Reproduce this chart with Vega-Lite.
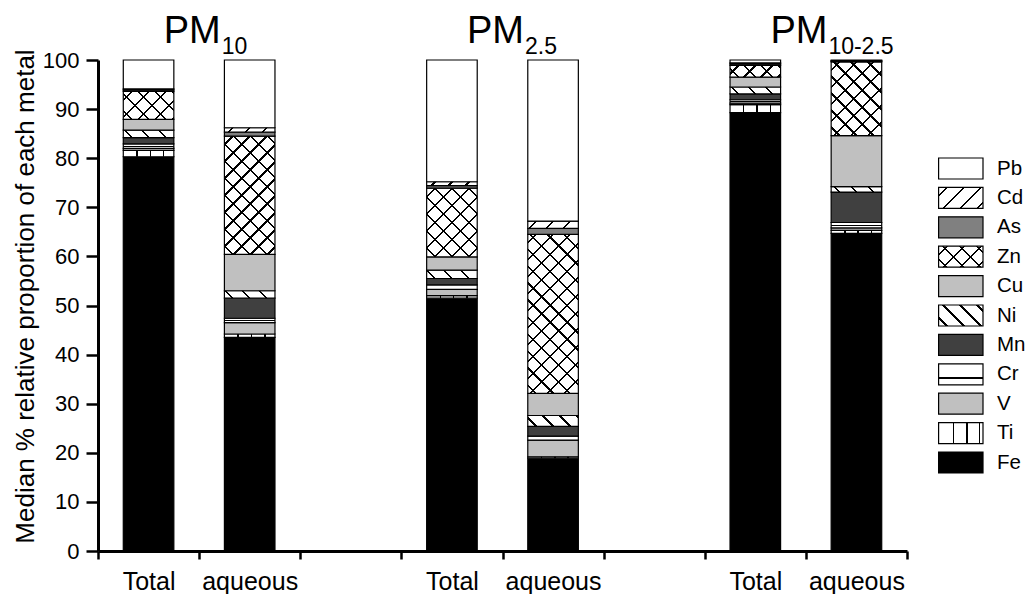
{
"$schema": "https://vega.github.io/schema/vega-lite/v6.json",
"background": "white",
"padding": {"left": 12, "top": 12, "right": 0, "bottom": 0},
"config": {"view": {"stroke": null}, "font": "Liberation Sans", "text": {"color": "black", "font": "Liberation Sans"},
  "axis": {"domainColor": "black", "tickColor": "black", "labelColor": "black", "titleColor": "black", "grid": false, "labelFont": "Liberation Sans", "titleFont": "Liberation Sans"}},
"datasets": {
 "bars": [
  {"sample":"PM10 Total","metal":"Fe","value":80.3},{"sample":"PM10 Total","metal":"Ti","value":1.3},{"sample":"PM10 Total","metal":"V","value":0.4},{"sample":"PM10 Total","metal":"Cr","value":0.9},{"sample":"PM10 Total","metal":"Mn","value":1.3},{"sample":"PM10 Total","metal":"Ni","value":1.5},{"sample":"PM10 Total","metal":"Cu","value":2.2},{"sample":"PM10 Total","metal":"Zn","value":5.7},{"sample":"PM10 Total","metal":"As","value":0.3},{"sample":"PM10 Total","metal":"Cd","value":0.2},{"sample":"PM10 Total","metal":"Pb","value":5.9},
  {"sample":"PM10 aqueous","metal":"Fe","value":43.5},{"sample":"PM10 aqueous","metal":"Ti","value":0.7},{"sample":"PM10 aqueous","metal":"V","value":2.3},{"sample":"PM10 aqueous","metal":"Cr","value":0.9},{"sample":"PM10 aqueous","metal":"Mn","value":4.1},{"sample":"PM10 aqueous","metal":"Ni","value":1.5},{"sample":"PM10 aqueous","metal":"Cu","value":7.4},{"sample":"PM10 aqueous","metal":"Zn","value":24.1},{"sample":"PM10 aqueous","metal":"As","value":0.8},{"sample":"PM10 aqueous","metal":"Cd","value":0.9},{"sample":"PM10 aqueous","metal":"Pb","value":13.8},
  {"sample":"PM2.5 Total","metal":"Fe","value":51.5},{"sample":"PM2.5 Total","metal":"Ti","value":0.5},{"sample":"PM2.5 Total","metal":"V","value":1.3},{"sample":"PM2.5 Total","metal":"Cr","value":0.9},{"sample":"PM2.5 Total","metal":"Mn","value":1.3},{"sample":"PM2.5 Total","metal":"Ni","value":1.7},{"sample":"PM2.5 Total","metal":"Cu","value":2.7},{"sample":"PM2.5 Total","metal":"Zn","value":14.0},{"sample":"PM2.5 Total","metal":"As","value":0.5},{"sample":"PM2.5 Total","metal":"Cd","value":0.8},{"sample":"PM2.5 Total","metal":"Pb","value":24.8},
  {"sample":"PM2.5 aqueous","metal":"Fe","value":18.9},{"sample":"PM2.5 aqueous","metal":"Ti","value":0.3},{"sample":"PM2.5 aqueous","metal":"V","value":3.4},{"sample":"PM2.5 aqueous","metal":"Cr","value":0.8},{"sample":"PM2.5 aqueous","metal":"Mn","value":2.0},{"sample":"PM2.5 aqueous","metal":"Ni","value":2.2},{"sample":"PM2.5 aqueous","metal":"Cu","value":4.5},{"sample":"PM2.5 aqueous","metal":"Zn","value":32.4},{"sample":"PM2.5 aqueous","metal":"As","value":1.2},{"sample":"PM2.5 aqueous","metal":"Cd","value":1.5},{"sample":"PM2.5 aqueous","metal":"Pb","value":32.8},
  {"sample":"PM10-2.5 Total","metal":"Fe","value":89.3},{"sample":"PM10-2.5 Total","metal":"Ti","value":1.6},{"sample":"PM10-2.5 Total","metal":"V","value":0.3},{"sample":"PM10-2.5 Total","metal":"Cr","value":0.7},{"sample":"PM10-2.5 Total","metal":"Mn","value":1.2},{"sample":"PM10-2.5 Total","metal":"Ni","value":1.4},{"sample":"PM10-2.5 Total","metal":"Cu","value":2.0},{"sample":"PM10-2.5 Total","metal":"Zn","value":2.4},{"sample":"PM10-2.5 Total","metal":"As","value":0.3},{"sample":"PM10-2.5 Total","metal":"Cd","value":0.2},{"sample":"PM10-2.5 Total","metal":"Pb","value":0.6},
  {"sample":"PM10-2.5 aqueous","metal":"Fe","value":64.7},{"sample":"PM10-2.5 aqueous","metal":"Ti","value":0.6},{"sample":"PM10-2.5 aqueous","metal":"V","value":0.5},{"sample":"PM10-2.5 aqueous","metal":"Cr","value":1.1},{"sample":"PM10-2.5 aqueous","metal":"Mn","value":6.2},{"sample":"PM10-2.5 aqueous","metal":"Ni","value":1.1},{"sample":"PM10-2.5 aqueous","metal":"Cu","value":10.4},{"sample":"PM10-2.5 aqueous","metal":"Zn","value":15.0},{"sample":"PM10-2.5 aqueous","metal":"As","value":0.1},{"sample":"PM10-2.5 aqueous","metal":"Cd","value":0.2},{"sample":"PM10-2.5 aqueous","metal":"Pb","value":0.1}
 ],
 "titles": [
  {"sample":"PM10 aqueous","main":"PM","sub":"10"},
  {"sample":"PM2.5 aqueous","main":"PM","sub":"2.5"},
  {"sample":"PM10-2.5 aqueous","main":"PM","sub":"10-2.5"}
 ]
},
"bounds": "flush",
"spacing": 31.6,
"hconcat": [
 {
  "width": 809, "height": 491,
  "encoding": {"x": {"field": "sample", "type": "nominal",
    "scale": {"domain": ["PM10 Total","PM10 aqueous","gap1","PM2.5 Total","PM2.5 aqueous","gap2","PM10-2.5 Total","PM10-2.5 aqueous"], "paddingInner": 0, "paddingOuter": 0},
    "axis": {"title": null, "tickBand": "extent", "labelAngle": 0, "labelExpr": "isString(datum.value) && indexof(datum.value, 'gap') < 0 ? split(datum.value, ' ')[1] : ''", "labelFontSize": 25, "labelPadding": 10, "tickSize": 8, "tickWidth": 2.5, "domainWidth": 3, "labelOverlap": false}}},
  "layer": [
   {"data": {"name": "bars"},
    "transform": [{"stack": "value", "groupby": ["sample"], "as": ["v0", "v1"]}],
    "mark": {"type": "bar", "width": {"band": 0.5}, "stroke": "black", "strokeWidth": 1.2},
    "encoding": {
     "y": {"field": "v1", "type": "quantitative", "scale": {"domain": [0, 100], "nice": false},
       "axis": {"values": [0,5,10,15,20,25,30,35,40,45,50,55,60,65,70,75,80,85,90,95,100], "labelExpr": "datum.value % 10 === 0 ? datum.label : ''", "title": "Median % relative proportion of each metal", "titleFontSize": 26, "titleFontWeight": "normal", "titlePadding": 4, "titleY": 236, "labelFontSize": 22, "labelPadding": 7, "tickSize": 12, "tickWidth": 2.5, "domainWidth": 3,
         "encode": {"ticks": {"update": {"x2": {"signal": "datum.value % 10 === 0 ? -12 : -7"}}}}}},
     "y2": {"field": "v0"},
     "color": {"field": "metal", "type": "nominal", "legend": null,
       "scale": {"domain": ["Pb","Cd","As","Zn","Cu","Ni","Mn","Cr","V","Ti","Fe"], "range": ["#ffffff","#ffffff","#808080","#ffffff","#c0c0c0","#ffffff","#404040","#ffffff","#c0c0c0","#ffffff","#000000"]}}
    }},
   {"data": {"name": "bars"},
    "transform": [{"stack": "value", "groupby": ["sample"], "as": ["v0", "v1"]}, {"filter": "datum.metal === 'Ti'"}],
    "mark": {"type": "bar", "width": {"band": 0.5}, "strokeWidth": 0,
      "fill": {"gradient": "linear", "x1": 0, "y1": 0, "x2": 1, "y2": 0, "stops": [
        {"offset":0.255,"color":"transparent"},{"offset":0.255,"color":"#000"},{"offset":0.285,"color":"#000"},{"offset":0.285,"color":"transparent"},
        {"offset":0.52,"color":"transparent"},{"offset":0.52,"color":"#000"},{"offset":0.55,"color":"#000"},{"offset":0.55,"color":"transparent"},
        {"offset":0.785,"color":"transparent"},{"offset":0.785,"color":"#000"},{"offset":0.815,"color":"#000"},{"offset":0.815,"color":"transparent"}]}},
    "encoding": {"y": {"field": "v1", "type": "quantitative", "scale": {"domain": [0, 100], "nice": false}}, "y2": {"field": "v0"}}},
   {"data": {"name": "bars"},
    "transform": [{"stack": "value", "groupby": ["sample"], "as": ["v0", "v1"]}, {"filter": "datum.metal === 'Cr'"}],
    "mark": {"type": "bar", "width": {"band": 0.5}, "strokeWidth": 0,
      "fill": {"gradient": "linear", "x1": 0, "y1": 0, "x2": 0, "y2": 1, "stops": [
        {"offset":0.42,"color":"transparent"},{"offset":0.42,"color":"#000"},{"offset":0.58,"color":"#000"},{"offset":0.58,"color":"transparent"}]}},
    "encoding": {"y": {"field": "v1", "type": "quantitative", "scale": {"domain": [0, 100], "nice": false}}, "y2": {"field": "v0"}}},
   {"data": {"name": "bars"},
    "transform": [{"stack": "value", "groupby": ["sample"], "as": ["v0", "v1"]}, {"filter": "datum.metal === 'Cd'"}],
    "mark": {"type": "bar", "width": {"band": 0.5}, "strokeWidth": 0},
    "encoding": {"y": {"field": "v1", "type": "quantitative", "scale": {"domain": [0, 100], "nice": false}}, "y2": {"field": "v0"},
     "fill": {"condition": [
       {"test": "datum.sample === 'PM10 aqueous'", "value": {"gradient":"linear","x1":0,"y1":0,"x2":1.33477,"y2":0.11669,"stops":[{"offset":0.1088,"color":"transparent"},{"offset":0.1088,"color":"#000"},{"offset":0.1412,"color":"#000"},{"offset":0.1412,"color":"transparent"},{"offset":0.3588,"color":"transparent"},{"offset":0.3588,"color":"#000"},{"offset":0.3912,"color":"#000"},{"offset":0.3912,"color":"transparent"},{"offset":0.6088,"color":"transparent"},{"offset":0.6088,"color":"#000"},{"offset":0.6412,"color":"#000"},{"offset":0.6412,"color":"transparent"},{"offset":0.8588,"color":"transparent"},{"offset":0.8588,"color":"#000"},{"offset":0.8912,"color":"#000"},{"offset":0.8912,"color":"transparent"}]}},
       {"test": "datum.sample === 'PM2.5 Total'", "value": {"gradient":"linear","x1":0,"y1":0,"x2":1.3369,"y2":0.10392,"stops":[{"offset":0.1088,"color":"transparent"},{"offset":0.1088,"color":"#000"},{"offset":0.1412,"color":"#000"},{"offset":0.1412,"color":"transparent"},{"offset":0.3588,"color":"transparent"},{"offset":0.3588,"color":"#000"},{"offset":0.3912,"color":"#000"},{"offset":0.3912,"color":"transparent"},{"offset":0.6088,"color":"transparent"},{"offset":0.6088,"color":"#000"},{"offset":0.6412,"color":"#000"},{"offset":0.6412,"color":"transparent"},{"offset":0.8588,"color":"transparent"},{"offset":0.8588,"color":"#000"},{"offset":0.8912,"color":"#000"},{"offset":0.8912,"color":"transparent"}]}},
       {"test": "datum.sample === 'PM2.5 aqueous'", "value": {"gradient":"linear","x1":0,"y1":0,"x2":1.31698,"y2":0.19197,"stops":[{"offset":0.1088,"color":"transparent"},{"offset":0.1088,"color":"#000"},{"offset":0.1412,"color":"#000"},{"offset":0.1412,"color":"transparent"},{"offset":0.3588,"color":"transparent"},{"offset":0.3588,"color":"#000"},{"offset":0.3912,"color":"#000"},{"offset":0.3912,"color":"transparent"},{"offset":0.6088,"color":"transparent"},{"offset":0.6088,"color":"#000"},{"offset":0.6412,"color":"#000"},{"offset":0.6412,"color":"transparent"},{"offset":0.8588,"color":"transparent"},{"offset":0.8588,"color":"#000"},{"offset":0.8912,"color":"#000"},{"offset":0.8912,"color":"transparent"}]}}
      ],
      "value": {"gradient":"linear","x1":0,"y1":0,"x2":1.34443,"y2":0.02606,"stops":[{"offset":0.1088,"color":"transparent"},{"offset":0.1088,"color":"#000"},{"offset":0.1412,"color":"#000"},{"offset":0.1412,"color":"transparent"},{"offset":0.3588,"color":"transparent"},{"offset":0.3588,"color":"#000"},{"offset":0.3912,"color":"#000"},{"offset":0.3912,"color":"transparent"},{"offset":0.6088,"color":"transparent"},{"offset":0.6088,"color":"#000"},{"offset":0.6412,"color":"#000"},{"offset":0.6412,"color":"transparent"},{"offset":0.8588,"color":"transparent"},{"offset":0.8588,"color":"#000"},{"offset":0.8912,"color":"#000"},{"offset":0.8912,"color":"transparent"}]}}
    }},
   {"data": {"name": "bars"},
    "transform": [{"stack": "value", "groupby": ["sample"], "as": ["v0", "v1"]}, {"filter": "datum.metal === 'Ni'"}],
    "mark": {"type": "bar", "width": {"band": 0.5}, "strokeWidth": 0},
    "encoding": {"y": {"field": "v1", "type": "quantitative", "scale": {"domain": [0, 100], "nice": false}}, "y2": {"field": "v0"},
     "fill": {"condition": [
       {"test": "datum.sample === 'PM10 Total' || datum.sample === 'PM10 aqueous'", "value": {"gradient":"linear","x1":0,"y1":1,"x2":1.31698,"y2":0.80803,"stops":[{"offset":0.1088,"color":"transparent"},{"offset":0.1088,"color":"#000"},{"offset":0.1412,"color":"#000"},{"offset":0.1412,"color":"transparent"},{"offset":0.3588,"color":"transparent"},{"offset":0.3588,"color":"#000"},{"offset":0.3912,"color":"#000"},{"offset":0.3912,"color":"transparent"},{"offset":0.6088,"color":"transparent"},{"offset":0.6088,"color":"#000"},{"offset":0.6412,"color":"#000"},{"offset":0.6412,"color":"transparent"},{"offset":0.8588,"color":"transparent"},{"offset":0.8588,"color":"#000"},{"offset":0.8912,"color":"#000"},{"offset":0.8912,"color":"transparent"}]}},
       {"test": "datum.sample === 'PM2.5 Total'", "value": {"gradient":"linear","x1":0,"y1":1,"x2":1.30925,"y2":0.78378,"stops":[{"offset":0.1088,"color":"transparent"},{"offset":0.1088,"color":"#000"},{"offset":0.1412,"color":"#000"},{"offset":0.1412,"color":"transparent"},{"offset":0.3588,"color":"transparent"},{"offset":0.3588,"color":"#000"},{"offset":0.3912,"color":"#000"},{"offset":0.3912,"color":"transparent"},{"offset":0.6088,"color":"transparent"},{"offset":0.6088,"color":"#000"},{"offset":0.6412,"color":"#000"},{"offset":0.6412,"color":"transparent"},{"offset":0.8588,"color":"transparent"},{"offset":0.8588,"color":"#000"},{"offset":0.8912,"color":"#000"},{"offset":0.8912,"color":"transparent"}]}},
       {"test": "datum.sample === 'PM2.5 aqueous'", "value": {"gradient":"linear","x1":0,"y1":1,"x2":1.28628,"y2":0.72524,"stops":[{"offset":0.1088,"color":"transparent"},{"offset":0.1088,"color":"#000"},{"offset":0.1412,"color":"#000"},{"offset":0.1412,"color":"transparent"},{"offset":0.3588,"color":"transparent"},{"offset":0.3588,"color":"#000"},{"offset":0.3912,"color":"#000"},{"offset":0.3912,"color":"transparent"},{"offset":0.6088,"color":"transparent"},{"offset":0.6088,"color":"#000"},{"offset":0.6412,"color":"#000"},{"offset":0.6412,"color":"transparent"},{"offset":0.8588,"color":"transparent"},{"offset":0.8588,"color":"#000"},{"offset":0.8912,"color":"#000"},{"offset":0.8912,"color":"transparent"}]}},
       {"test": "datum.sample === 'PM10-2.5 Total'", "value": {"gradient":"linear","x1":0,"y1":1,"x2":1.32056,"y2":0.82056,"stops":[{"offset":0.1088,"color":"transparent"},{"offset":0.1088,"color":"#000"},{"offset":0.1412,"color":"#000"},{"offset":0.1412,"color":"transparent"},{"offset":0.3588,"color":"transparent"},{"offset":0.3588,"color":"#000"},{"offset":0.3912,"color":"#000"},{"offset":0.3912,"color":"transparent"},{"offset":0.6088,"color":"transparent"},{"offset":0.6088,"color":"#000"},{"offset":0.6412,"color":"#000"},{"offset":0.6412,"color":"transparent"},{"offset":0.8588,"color":"transparent"},{"offset":0.8588,"color":"#000"},{"offset":0.8912,"color":"#000"},{"offset":0.8912,"color":"transparent"}]}}
      ],
      "value": {"gradient":"linear","x1":0,"y1":1,"x2":1.32976,"y2":0.85798,"stops":[{"offset":0.1088,"color":"transparent"},{"offset":0.1088,"color":"#000"},{"offset":0.1412,"color":"#000"},{"offset":0.1412,"color":"transparent"},{"offset":0.3588,"color":"transparent"},{"offset":0.3588,"color":"#000"},{"offset":0.3912,"color":"#000"},{"offset":0.3912,"color":"transparent"},{"offset":0.6088,"color":"transparent"},{"offset":0.6088,"color":"#000"},{"offset":0.6412,"color":"#000"},{"offset":0.6412,"color":"transparent"},{"offset":0.8588,"color":"transparent"},{"offset":0.8588,"color":"#000"},{"offset":0.8912,"color":"#000"},{"offset":0.8912,"color":"transparent"}]}}
    }},
   {"data": {"name": "bars"},
    "transform": [{"stack": "value", "groupby": ["sample"], "as": ["v0", "v1"]}, {"filter": "datum.metal === 'Zn'"}],
    "mark": {"type": "bar", "width": {"band": 0.5}, "strokeWidth": 0},
    "encoding": {"y": {"field": "v1", "type": "quantitative", "scale": {"domain": [0, 100], "nice": false}}, "y2": {"field": "v0"},
     "fill": {"condition": [
       {"test": "datum.sample === 'PM10 Total'", "value": {"gradient":"linear","x1":0,"y1":0,"x2":3.3458,"y2":1.8522,"stops":[{"offset":0.0335,"color":"transparent"},{"offset":0.0335,"color":"#000"},{"offset":0.0434,"color":"#000"},{"offset":0.0434,"color":"transparent"},{"offset":0.1104,"color":"transparent"},{"offset":0.1104,"color":"#000"},{"offset":0.1204,"color":"#000"},{"offset":0.1204,"color":"transparent"},{"offset":0.1873,"color":"transparent"},{"offset":0.1873,"color":"#000"},{"offset":0.1973,"color":"#000"},{"offset":0.1973,"color":"transparent"},{"offset":0.2643,"color":"transparent"},{"offset":0.2643,"color":"#000"},{"offset":0.2742,"color":"#000"},{"offset":0.2742,"color":"transparent"},{"offset":0.3412,"color":"transparent"},{"offset":0.3412,"color":"#000"},{"offset":0.3511,"color":"#000"},{"offset":0.3511,"color":"transparent"},{"offset":0.4181,"color":"transparent"},{"offset":0.4181,"color":"#000"},{"offset":0.4281,"color":"#000"},{"offset":0.4281,"color":"transparent"},{"offset":0.495,"color":"transparent"},{"offset":0.495,"color":"#000"},{"offset":0.505,"color":"#000"},{"offset":0.505,"color":"transparent"},{"offset":0.572,"color":"transparent"},{"offset":0.572,"color":"#000"},{"offset":0.5819,"color":"#000"},{"offset":0.5819,"color":"transparent"},{"offset":0.6489,"color":"transparent"},{"offset":0.6489,"color":"#000"},{"offset":0.6588,"color":"#000"},{"offset":0.6588,"color":"transparent"},{"offset":0.7258,"color":"transparent"},{"offset":0.7258,"color":"#000"},{"offset":0.7357,"color":"#000"},{"offset":0.7357,"color":"transparent"},{"offset":0.8027,"color":"transparent"},{"offset":0.8027,"color":"#000"},{"offset":0.8127,"color":"#000"},{"offset":0.8127,"color":"transparent"},{"offset":0.8796,"color":"transparent"},{"offset":0.8796,"color":"#000"},{"offset":0.8896,"color":"#000"},{"offset":0.8896,"color":"transparent"},{"offset":0.9566,"color":"transparent"},{"offset":0.9566,"color":"#000"},{"offset":0.9665,"color":"#000"},{"offset":0.9665,"color":"transparent"}]}},
       {"test": "datum.sample === 'PM10 aqueous'", "value": {"gradient":"linear","x1":0,"y1":0,"x2":0.67481,"y2":1.57932,"stops":[{"offset":0.0335,"color":"transparent"},{"offset":0.0335,"color":"#000"},{"offset":0.0434,"color":"#000"},{"offset":0.0434,"color":"transparent"},{"offset":0.1104,"color":"transparent"},{"offset":0.1104,"color":"#000"},{"offset":0.1204,"color":"#000"},{"offset":0.1204,"color":"transparent"},{"offset":0.1873,"color":"transparent"},{"offset":0.1873,"color":"#000"},{"offset":0.1973,"color":"#000"},{"offset":0.1973,"color":"transparent"},{"offset":0.2643,"color":"transparent"},{"offset":0.2643,"color":"#000"},{"offset":0.2742,"color":"#000"},{"offset":0.2742,"color":"transparent"},{"offset":0.3412,"color":"transparent"},{"offset":0.3412,"color":"#000"},{"offset":0.3511,"color":"#000"},{"offset":0.3511,"color":"transparent"},{"offset":0.4181,"color":"transparent"},{"offset":0.4181,"color":"#000"},{"offset":0.4281,"color":"#000"},{"offset":0.4281,"color":"transparent"},{"offset":0.495,"color":"transparent"},{"offset":0.495,"color":"#000"},{"offset":0.505,"color":"#000"},{"offset":0.505,"color":"transparent"},{"offset":0.572,"color":"transparent"},{"offset":0.572,"color":"#000"},{"offset":0.5819,"color":"#000"},{"offset":0.5819,"color":"transparent"},{"offset":0.6489,"color":"transparent"},{"offset":0.6489,"color":"#000"},{"offset":0.6588,"color":"#000"},{"offset":0.6588,"color":"transparent"},{"offset":0.7258,"color":"transparent"},{"offset":0.7258,"color":"#000"},{"offset":0.7357,"color":"#000"},{"offset":0.7357,"color":"transparent"},{"offset":0.8027,"color":"transparent"},{"offset":0.8027,"color":"#000"},{"offset":0.8127,"color":"#000"},{"offset":0.8127,"color":"transparent"},{"offset":0.8796,"color":"transparent"},{"offset":0.8796,"color":"#000"},{"offset":0.8896,"color":"#000"},{"offset":0.8896,"color":"transparent"},{"offset":0.9566,"color":"transparent"},{"offset":0.9566,"color":"#000"},{"offset":0.9665,"color":"#000"},{"offset":0.9665,"color":"transparent"}]}},
       {"test": "datum.sample === 'PM2.5 Total'", "value": {"gradient":"linear","x1":0,"y1":0,"x2":1.53455,"y2":2.08632,"stops":[{"offset":0.0335,"color":"transparent"},{"offset":0.0335,"color":"#000"},{"offset":0.0434,"color":"#000"},{"offset":0.0434,"color":"transparent"},{"offset":0.1104,"color":"transparent"},{"offset":0.1104,"color":"#000"},{"offset":0.1204,"color":"#000"},{"offset":0.1204,"color":"transparent"},{"offset":0.1873,"color":"transparent"},{"offset":0.1873,"color":"#000"},{"offset":0.1973,"color":"#000"},{"offset":0.1973,"color":"transparent"},{"offset":0.2643,"color":"transparent"},{"offset":0.2643,"color":"#000"},{"offset":0.2742,"color":"#000"},{"offset":0.2742,"color":"transparent"},{"offset":0.3412,"color":"transparent"},{"offset":0.3412,"color":"#000"},{"offset":0.3511,"color":"#000"},{"offset":0.3511,"color":"transparent"},{"offset":0.4181,"color":"transparent"},{"offset":0.4181,"color":"#000"},{"offset":0.4281,"color":"#000"},{"offset":0.4281,"color":"transparent"},{"offset":0.495,"color":"transparent"},{"offset":0.495,"color":"#000"},{"offset":0.505,"color":"#000"},{"offset":0.505,"color":"transparent"},{"offset":0.572,"color":"transparent"},{"offset":0.572,"color":"#000"},{"offset":0.5819,"color":"#000"},{"offset":0.5819,"color":"transparent"},{"offset":0.6489,"color":"transparent"},{"offset":0.6489,"color":"#000"},{"offset":0.6588,"color":"#000"},{"offset":0.6588,"color":"transparent"},{"offset":0.7258,"color":"transparent"},{"offset":0.7258,"color":"#000"},{"offset":0.7357,"color":"#000"},{"offset":0.7357,"color":"transparent"},{"offset":0.8027,"color":"transparent"},{"offset":0.8027,"color":"#000"},{"offset":0.8127,"color":"#000"},{"offset":0.8127,"color":"transparent"},{"offset":0.8796,"color":"transparent"},{"offset":0.8796,"color":"#000"},{"offset":0.8896,"color":"#000"},{"offset":0.8896,"color":"transparent"},{"offset":0.9566,"color":"transparent"},{"offset":0.9566,"color":"#000"},{"offset":0.9665,"color":"#000"},{"offset":0.9665,"color":"transparent"}]}},
       {"test": "datum.sample === 'PM2.5 aqueous'", "value": {"gradient":"linear","x1":0,"y1":0,"x2":0.40103,"y2":1.26178,"stops":[{"offset":0.0335,"color":"transparent"},{"offset":0.0335,"color":"#000"},{"offset":0.0434,"color":"#000"},{"offset":0.0434,"color":"transparent"},{"offset":0.1104,"color":"transparent"},{"offset":0.1104,"color":"#000"},{"offset":0.1204,"color":"#000"},{"offset":0.1204,"color":"transparent"},{"offset":0.1873,"color":"transparent"},{"offset":0.1873,"color":"#000"},{"offset":0.1973,"color":"#000"},{"offset":0.1973,"color":"transparent"},{"offset":0.2643,"color":"transparent"},{"offset":0.2643,"color":"#000"},{"offset":0.2742,"color":"#000"},{"offset":0.2742,"color":"transparent"},{"offset":0.3412,"color":"transparent"},{"offset":0.3412,"color":"#000"},{"offset":0.3511,"color":"#000"},{"offset":0.3511,"color":"transparent"},{"offset":0.4181,"color":"transparent"},{"offset":0.4181,"color":"#000"},{"offset":0.4281,"color":"#000"},{"offset":0.4281,"color":"transparent"},{"offset":0.495,"color":"transparent"},{"offset":0.495,"color":"#000"},{"offset":0.505,"color":"#000"},{"offset":0.505,"color":"transparent"},{"offset":0.572,"color":"transparent"},{"offset":0.572,"color":"#000"},{"offset":0.5819,"color":"#000"},{"offset":0.5819,"color":"transparent"},{"offset":0.6489,"color":"transparent"},{"offset":0.6489,"color":"#000"},{"offset":0.6588,"color":"#000"},{"offset":0.6588,"color":"transparent"},{"offset":0.7258,"color":"transparent"},{"offset":0.7258,"color":"#000"},{"offset":0.7357,"color":"#000"},{"offset":0.7357,"color":"transparent"},{"offset":0.8027,"color":"transparent"},{"offset":0.8027,"color":"#000"},{"offset":0.8127,"color":"#000"},{"offset":0.8127,"color":"transparent"},{"offset":0.8796,"color":"transparent"},{"offset":0.8796,"color":"#000"},{"offset":0.8896,"color":"#000"},{"offset":0.8896,"color":"transparent"},{"offset":0.9566,"color":"transparent"},{"offset":0.9566,"color":"#000"},{"offset":0.9665,"color":"#000"},{"offset":0.9665,"color":"transparent"}]}},
       {"test": "datum.sample === 'PM10-2.5 Total'", "value": {"gradient":"linear","x1":0,"y1":0,"x2":4.146,"y2":0.966,"stops":[{"offset":0.0335,"color":"transparent"},{"offset":0.0335,"color":"#000"},{"offset":0.0434,"color":"#000"},{"offset":0.0434,"color":"transparent"},{"offset":0.1104,"color":"transparent"},{"offset":0.1104,"color":"#000"},{"offset":0.1204,"color":"#000"},{"offset":0.1204,"color":"transparent"},{"offset":0.1873,"color":"transparent"},{"offset":0.1873,"color":"#000"},{"offset":0.1973,"color":"#000"},{"offset":0.1973,"color":"transparent"},{"offset":0.2643,"color":"transparent"},{"offset":0.2643,"color":"#000"},{"offset":0.2742,"color":"#000"},{"offset":0.2742,"color":"transparent"},{"offset":0.3412,"color":"transparent"},{"offset":0.3412,"color":"#000"},{"offset":0.3511,"color":"#000"},{"offset":0.3511,"color":"transparent"},{"offset":0.4181,"color":"transparent"},{"offset":0.4181,"color":"#000"},{"offset":0.4281,"color":"#000"},{"offset":0.4281,"color":"transparent"},{"offset":0.495,"color":"transparent"},{"offset":0.495,"color":"#000"},{"offset":0.505,"color":"#000"},{"offset":0.505,"color":"transparent"},{"offset":0.572,"color":"transparent"},{"offset":0.572,"color":"#000"},{"offset":0.5819,"color":"#000"},{"offset":0.5819,"color":"transparent"},{"offset":0.6489,"color":"transparent"},{"offset":0.6489,"color":"#000"},{"offset":0.6588,"color":"#000"},{"offset":0.6588,"color":"transparent"},{"offset":0.7258,"color":"transparent"},{"offset":0.7258,"color":"#000"},{"offset":0.7357,"color":"#000"},{"offset":0.7357,"color":"transparent"},{"offset":0.8027,"color":"transparent"},{"offset":0.8027,"color":"#000"},{"offset":0.8127,"color":"#000"},{"offset":0.8127,"color":"transparent"},{"offset":0.8796,"color":"transparent"},{"offset":0.8796,"color":"#000"},{"offset":0.8896,"color":"#000"},{"offset":0.8896,"color":"transparent"},{"offset":0.9566,"color":"transparent"},{"offset":0.9566,"color":"#000"},{"offset":0.9665,"color":"#000"},{"offset":0.9665,"color":"transparent"}]}}
      ],
      "value": {"gradient":"linear","x1":0,"y1":0,"x2":1.40012,"y2":2.03953,"stops":[{"offset":0.0335,"color":"transparent"},{"offset":0.0335,"color":"#000"},{"offset":0.0434,"color":"#000"},{"offset":0.0434,"color":"transparent"},{"offset":0.1104,"color":"transparent"},{"offset":0.1104,"color":"#000"},{"offset":0.1204,"color":"#000"},{"offset":0.1204,"color":"transparent"},{"offset":0.1873,"color":"transparent"},{"offset":0.1873,"color":"#000"},{"offset":0.1973,"color":"#000"},{"offset":0.1973,"color":"transparent"},{"offset":0.2643,"color":"transparent"},{"offset":0.2643,"color":"#000"},{"offset":0.2742,"color":"#000"},{"offset":0.2742,"color":"transparent"},{"offset":0.3412,"color":"transparent"},{"offset":0.3412,"color":"#000"},{"offset":0.3511,"color":"#000"},{"offset":0.3511,"color":"transparent"},{"offset":0.4181,"color":"transparent"},{"offset":0.4181,"color":"#000"},{"offset":0.4281,"color":"#000"},{"offset":0.4281,"color":"transparent"},{"offset":0.495,"color":"transparent"},{"offset":0.495,"color":"#000"},{"offset":0.505,"color":"#000"},{"offset":0.505,"color":"transparent"},{"offset":0.572,"color":"transparent"},{"offset":0.572,"color":"#000"},{"offset":0.5819,"color":"#000"},{"offset":0.5819,"color":"transparent"},{"offset":0.6489,"color":"transparent"},{"offset":0.6489,"color":"#000"},{"offset":0.6588,"color":"#000"},{"offset":0.6588,"color":"transparent"},{"offset":0.7258,"color":"transparent"},{"offset":0.7258,"color":"#000"},{"offset":0.7357,"color":"#000"},{"offset":0.7357,"color":"transparent"},{"offset":0.8027,"color":"transparent"},{"offset":0.8027,"color":"#000"},{"offset":0.8127,"color":"#000"},{"offset":0.8127,"color":"transparent"},{"offset":0.8796,"color":"transparent"},{"offset":0.8796,"color":"#000"},{"offset":0.8896,"color":"#000"},{"offset":0.8896,"color":"transparent"},{"offset":0.9566,"color":"transparent"},{"offset":0.9566,"color":"#000"},{"offset":0.9665,"color":"#000"},{"offset":0.9665,"color":"transparent"}]}}
    }},
   {"data": {"name": "bars"},
    "transform": [{"stack": "value", "groupby": ["sample"], "as": ["v0", "v1"]}, {"filter": "datum.metal === 'Zn'"}],
    "mark": {"type": "bar", "width": {"band": 0.5}, "strokeWidth": 0},
    "encoding": {"y": {"field": "v1", "type": "quantitative", "scale": {"domain": [0, 100], "nice": false}}, "y2": {"field": "v0"},
     "fill": {"condition": [
       {"test": "datum.sample === 'PM10 Total'", "value": {"gradient":"linear","x1":0,"y1":1,"x2":3.3458,"y2":-0.8522,"stops":[{"offset":0.0335,"color":"transparent"},{"offset":0.0335,"color":"#000"},{"offset":0.0434,"color":"#000"},{"offset":0.0434,"color":"transparent"},{"offset":0.1104,"color":"transparent"},{"offset":0.1104,"color":"#000"},{"offset":0.1204,"color":"#000"},{"offset":0.1204,"color":"transparent"},{"offset":0.1873,"color":"transparent"},{"offset":0.1873,"color":"#000"},{"offset":0.1973,"color":"#000"},{"offset":0.1973,"color":"transparent"},{"offset":0.2643,"color":"transparent"},{"offset":0.2643,"color":"#000"},{"offset":0.2742,"color":"#000"},{"offset":0.2742,"color":"transparent"},{"offset":0.3412,"color":"transparent"},{"offset":0.3412,"color":"#000"},{"offset":0.3511,"color":"#000"},{"offset":0.3511,"color":"transparent"},{"offset":0.4181,"color":"transparent"},{"offset":0.4181,"color":"#000"},{"offset":0.4281,"color":"#000"},{"offset":0.4281,"color":"transparent"},{"offset":0.495,"color":"transparent"},{"offset":0.495,"color":"#000"},{"offset":0.505,"color":"#000"},{"offset":0.505,"color":"transparent"},{"offset":0.572,"color":"transparent"},{"offset":0.572,"color":"#000"},{"offset":0.5819,"color":"#000"},{"offset":0.5819,"color":"transparent"},{"offset":0.6489,"color":"transparent"},{"offset":0.6489,"color":"#000"},{"offset":0.6588,"color":"#000"},{"offset":0.6588,"color":"transparent"},{"offset":0.7258,"color":"transparent"},{"offset":0.7258,"color":"#000"},{"offset":0.7357,"color":"#000"},{"offset":0.7357,"color":"transparent"},{"offset":0.8027,"color":"transparent"},{"offset":0.8027,"color":"#000"},{"offset":0.8127,"color":"#000"},{"offset":0.8127,"color":"transparent"},{"offset":0.8796,"color":"transparent"},{"offset":0.8796,"color":"#000"},{"offset":0.8896,"color":"#000"},{"offset":0.8896,"color":"transparent"},{"offset":0.9566,"color":"transparent"},{"offset":0.9566,"color":"#000"},{"offset":0.9665,"color":"#000"},{"offset":0.9665,"color":"transparent"}]}},
       {"test": "datum.sample === 'PM10 aqueous'", "value": {"gradient":"linear","x1":0,"y1":1,"x2":0.67481,"y2":-0.57932,"stops":[{"offset":0.0335,"color":"transparent"},{"offset":0.0335,"color":"#000"},{"offset":0.0434,"color":"#000"},{"offset":0.0434,"color":"transparent"},{"offset":0.1104,"color":"transparent"},{"offset":0.1104,"color":"#000"},{"offset":0.1204,"color":"#000"},{"offset":0.1204,"color":"transparent"},{"offset":0.1873,"color":"transparent"},{"offset":0.1873,"color":"#000"},{"offset":0.1973,"color":"#000"},{"offset":0.1973,"color":"transparent"},{"offset":0.2643,"color":"transparent"},{"offset":0.2643,"color":"#000"},{"offset":0.2742,"color":"#000"},{"offset":0.2742,"color":"transparent"},{"offset":0.3412,"color":"transparent"},{"offset":0.3412,"color":"#000"},{"offset":0.3511,"color":"#000"},{"offset":0.3511,"color":"transparent"},{"offset":0.4181,"color":"transparent"},{"offset":0.4181,"color":"#000"},{"offset":0.4281,"color":"#000"},{"offset":0.4281,"color":"transparent"},{"offset":0.495,"color":"transparent"},{"offset":0.495,"color":"#000"},{"offset":0.505,"color":"#000"},{"offset":0.505,"color":"transparent"},{"offset":0.572,"color":"transparent"},{"offset":0.572,"color":"#000"},{"offset":0.5819,"color":"#000"},{"offset":0.5819,"color":"transparent"},{"offset":0.6489,"color":"transparent"},{"offset":0.6489,"color":"#000"},{"offset":0.6588,"color":"#000"},{"offset":0.6588,"color":"transparent"},{"offset":0.7258,"color":"transparent"},{"offset":0.7258,"color":"#000"},{"offset":0.7357,"color":"#000"},{"offset":0.7357,"color":"transparent"},{"offset":0.8027,"color":"transparent"},{"offset":0.8027,"color":"#000"},{"offset":0.8127,"color":"#000"},{"offset":0.8127,"color":"transparent"},{"offset":0.8796,"color":"transparent"},{"offset":0.8796,"color":"#000"},{"offset":0.8896,"color":"#000"},{"offset":0.8896,"color":"transparent"},{"offset":0.9566,"color":"transparent"},{"offset":0.9566,"color":"#000"},{"offset":0.9665,"color":"#000"},{"offset":0.9665,"color":"transparent"}]}},
       {"test": "datum.sample === 'PM2.5 Total'", "value": {"gradient":"linear","x1":0,"y1":1,"x2":1.53455,"y2":-1.08632,"stops":[{"offset":0.0335,"color":"transparent"},{"offset":0.0335,"color":"#000"},{"offset":0.0434,"color":"#000"},{"offset":0.0434,"color":"transparent"},{"offset":0.1104,"color":"transparent"},{"offset":0.1104,"color":"#000"},{"offset":0.1204,"color":"#000"},{"offset":0.1204,"color":"transparent"},{"offset":0.1873,"color":"transparent"},{"offset":0.1873,"color":"#000"},{"offset":0.1973,"color":"#000"},{"offset":0.1973,"color":"transparent"},{"offset":0.2643,"color":"transparent"},{"offset":0.2643,"color":"#000"},{"offset":0.2742,"color":"#000"},{"offset":0.2742,"color":"transparent"},{"offset":0.3412,"color":"transparent"},{"offset":0.3412,"color":"#000"},{"offset":0.3511,"color":"#000"},{"offset":0.3511,"color":"transparent"},{"offset":0.4181,"color":"transparent"},{"offset":0.4181,"color":"#000"},{"offset":0.4281,"color":"#000"},{"offset":0.4281,"color":"transparent"},{"offset":0.495,"color":"transparent"},{"offset":0.495,"color":"#000"},{"offset":0.505,"color":"#000"},{"offset":0.505,"color":"transparent"},{"offset":0.572,"color":"transparent"},{"offset":0.572,"color":"#000"},{"offset":0.5819,"color":"#000"},{"offset":0.5819,"color":"transparent"},{"offset":0.6489,"color":"transparent"},{"offset":0.6489,"color":"#000"},{"offset":0.6588,"color":"#000"},{"offset":0.6588,"color":"transparent"},{"offset":0.7258,"color":"transparent"},{"offset":0.7258,"color":"#000"},{"offset":0.7357,"color":"#000"},{"offset":0.7357,"color":"transparent"},{"offset":0.8027,"color":"transparent"},{"offset":0.8027,"color":"#000"},{"offset":0.8127,"color":"#000"},{"offset":0.8127,"color":"transparent"},{"offset":0.8796,"color":"transparent"},{"offset":0.8796,"color":"#000"},{"offset":0.8896,"color":"#000"},{"offset":0.8896,"color":"transparent"},{"offset":0.9566,"color":"transparent"},{"offset":0.9566,"color":"#000"},{"offset":0.9665,"color":"#000"},{"offset":0.9665,"color":"transparent"}]}},
       {"test": "datum.sample === 'PM2.5 aqueous'", "value": {"gradient":"linear","x1":0,"y1":1,"x2":0.40103,"y2":-0.26178,"stops":[{"offset":0.0335,"color":"transparent"},{"offset":0.0335,"color":"#000"},{"offset":0.0434,"color":"#000"},{"offset":0.0434,"color":"transparent"},{"offset":0.1104,"color":"transparent"},{"offset":0.1104,"color":"#000"},{"offset":0.1204,"color":"#000"},{"offset":0.1204,"color":"transparent"},{"offset":0.1873,"color":"transparent"},{"offset":0.1873,"color":"#000"},{"offset":0.1973,"color":"#000"},{"offset":0.1973,"color":"transparent"},{"offset":0.2643,"color":"transparent"},{"offset":0.2643,"color":"#000"},{"offset":0.2742,"color":"#000"},{"offset":0.2742,"color":"transparent"},{"offset":0.3412,"color":"transparent"},{"offset":0.3412,"color":"#000"},{"offset":0.3511,"color":"#000"},{"offset":0.3511,"color":"transparent"},{"offset":0.4181,"color":"transparent"},{"offset":0.4181,"color":"#000"},{"offset":0.4281,"color":"#000"},{"offset":0.4281,"color":"transparent"},{"offset":0.495,"color":"transparent"},{"offset":0.495,"color":"#000"},{"offset":0.505,"color":"#000"},{"offset":0.505,"color":"transparent"},{"offset":0.572,"color":"transparent"},{"offset":0.572,"color":"#000"},{"offset":0.5819,"color":"#000"},{"offset":0.5819,"color":"transparent"},{"offset":0.6489,"color":"transparent"},{"offset":0.6489,"color":"#000"},{"offset":0.6588,"color":"#000"},{"offset":0.6588,"color":"transparent"},{"offset":0.7258,"color":"transparent"},{"offset":0.7258,"color":"#000"},{"offset":0.7357,"color":"#000"},{"offset":0.7357,"color":"transparent"},{"offset":0.8027,"color":"transparent"},{"offset":0.8027,"color":"#000"},{"offset":0.8127,"color":"#000"},{"offset":0.8127,"color":"transparent"},{"offset":0.8796,"color":"transparent"},{"offset":0.8796,"color":"#000"},{"offset":0.8896,"color":"#000"},{"offset":0.8896,"color":"transparent"},{"offset":0.9566,"color":"transparent"},{"offset":0.9566,"color":"#000"},{"offset":0.9665,"color":"#000"},{"offset":0.9665,"color":"transparent"}]}},
       {"test": "datum.sample === 'PM10-2.5 Total'", "value": {"gradient":"linear","x1":0,"y1":1,"x2":4.146,"y2":0.034,"stops":[{"offset":0.0335,"color":"transparent"},{"offset":0.0335,"color":"#000"},{"offset":0.0434,"color":"#000"},{"offset":0.0434,"color":"transparent"},{"offset":0.1104,"color":"transparent"},{"offset":0.1104,"color":"#000"},{"offset":0.1204,"color":"#000"},{"offset":0.1204,"color":"transparent"},{"offset":0.1873,"color":"transparent"},{"offset":0.1873,"color":"#000"},{"offset":0.1973,"color":"#000"},{"offset":0.1973,"color":"transparent"},{"offset":0.2643,"color":"transparent"},{"offset":0.2643,"color":"#000"},{"offset":0.2742,"color":"#000"},{"offset":0.2742,"color":"transparent"},{"offset":0.3412,"color":"transparent"},{"offset":0.3412,"color":"#000"},{"offset":0.3511,"color":"#000"},{"offset":0.3511,"color":"transparent"},{"offset":0.4181,"color":"transparent"},{"offset":0.4181,"color":"#000"},{"offset":0.4281,"color":"#000"},{"offset":0.4281,"color":"transparent"},{"offset":0.495,"color":"transparent"},{"offset":0.495,"color":"#000"},{"offset":0.505,"color":"#000"},{"offset":0.505,"color":"transparent"},{"offset":0.572,"color":"transparent"},{"offset":0.572,"color":"#000"},{"offset":0.5819,"color":"#000"},{"offset":0.5819,"color":"transparent"},{"offset":0.6489,"color":"transparent"},{"offset":0.6489,"color":"#000"},{"offset":0.6588,"color":"#000"},{"offset":0.6588,"color":"transparent"},{"offset":0.7258,"color":"transparent"},{"offset":0.7258,"color":"#000"},{"offset":0.7357,"color":"#000"},{"offset":0.7357,"color":"transparent"},{"offset":0.8027,"color":"transparent"},{"offset":0.8027,"color":"#000"},{"offset":0.8127,"color":"#000"},{"offset":0.8127,"color":"transparent"},{"offset":0.8796,"color":"transparent"},{"offset":0.8796,"color":"#000"},{"offset":0.8896,"color":"#000"},{"offset":0.8896,"color":"transparent"},{"offset":0.9566,"color":"transparent"},{"offset":0.9566,"color":"#000"},{"offset":0.9665,"color":"#000"},{"offset":0.9665,"color":"transparent"}]}}
      ],
      "value": {"gradient":"linear","x1":0,"y1":1,"x2":1.40012,"y2":-1.03953,"stops":[{"offset":0.0335,"color":"transparent"},{"offset":0.0335,"color":"#000"},{"offset":0.0434,"color":"#000"},{"offset":0.0434,"color":"transparent"},{"offset":0.1104,"color":"transparent"},{"offset":0.1104,"color":"#000"},{"offset":0.1204,"color":"#000"},{"offset":0.1204,"color":"transparent"},{"offset":0.1873,"color":"transparent"},{"offset":0.1873,"color":"#000"},{"offset":0.1973,"color":"#000"},{"offset":0.1973,"color":"transparent"},{"offset":0.2643,"color":"transparent"},{"offset":0.2643,"color":"#000"},{"offset":0.2742,"color":"#000"},{"offset":0.2742,"color":"transparent"},{"offset":0.3412,"color":"transparent"},{"offset":0.3412,"color":"#000"},{"offset":0.3511,"color":"#000"},{"offset":0.3511,"color":"transparent"},{"offset":0.4181,"color":"transparent"},{"offset":0.4181,"color":"#000"},{"offset":0.4281,"color":"#000"},{"offset":0.4281,"color":"transparent"},{"offset":0.495,"color":"transparent"},{"offset":0.495,"color":"#000"},{"offset":0.505,"color":"#000"},{"offset":0.505,"color":"transparent"},{"offset":0.572,"color":"transparent"},{"offset":0.572,"color":"#000"},{"offset":0.5819,"color":"#000"},{"offset":0.5819,"color":"transparent"},{"offset":0.6489,"color":"transparent"},{"offset":0.6489,"color":"#000"},{"offset":0.6588,"color":"#000"},{"offset":0.6588,"color":"transparent"},{"offset":0.7258,"color":"transparent"},{"offset":0.7258,"color":"#000"},{"offset":0.7357,"color":"#000"},{"offset":0.7357,"color":"transparent"},{"offset":0.8027,"color":"transparent"},{"offset":0.8027,"color":"#000"},{"offset":0.8127,"color":"#000"},{"offset":0.8127,"color":"transparent"},{"offset":0.8796,"color":"transparent"},{"offset":0.8796,"color":"#000"},{"offset":0.8896,"color":"#000"},{"offset":0.8896,"color":"transparent"},{"offset":0.9566,"color":"transparent"},{"offset":0.9566,"color":"#000"},{"offset":0.9665,"color":"#000"},{"offset":0.9665,"color":"transparent"}]}}
    }},
   {"data": {"name": "titles"},
    "mark": {"type": "text", "align": "center", "baseline": "alphabetic", "fontSize": 38, "dx": -7},
    "encoding": {
     "x": {"field": "sample", "type": "nominal", "bandPosition": 0, "scale": {"domain": ["PM10 Total","PM10 aqueous","gap1","PM2.5 Total","PM2.5 aqueous","gap2","PM10-2.5 Total","PM10-2.5 aqueous"], "paddingInner": 0, "paddingOuter": 0}},
     "y": {"datum": 103.56, "type": "quantitative", "scale": {"domain": [0, 100], "nice": false}},
     "text": {"field": "main"}}},
   {"data": {"name": "titles"},
    "mark": {"type": "text", "align": "left", "baseline": "alphabetic", "fontSize": 23, "dx": 22.5},
    "encoding": {
     "x": {"field": "sample", "type": "nominal", "bandPosition": 0, "scale": {"domain": ["PM10 Total","PM10 aqueous","gap1","PM2.5 Total","PM2.5 aqueous","gap2","PM10-2.5 Total","PM10-2.5 aqueous"], "paddingInner": 0, "paddingOuter": 0}},
     "y": {"datum": 101.2, "type": "quantitative", "scale": {"domain": [0, 100], "nice": false}},
     "text": {"field": "sub"}}}
  ]
 },
 {
  "width": 44.4, "height": 491,
  "data": {"name": "bars"},
  "transform": [{"filter": "datum.sample === 'PM10 Total'"}],
  "encoding": {"y": {"field": "metal", "type": "nominal", "axis": null,
     "scale": {"domain": ["_1","_2","_3","Pb","Cd","As","Zn","Cu","Ni","Mn","Cr","V","Ti","Fe","_4","_5"], "paddingInner": 0.2857, "paddingOuter": 0.4932, "align": 0.338}},
   "x": {"datum": 0, "type": "quantitative", "scale": {"domain": [0, 1], "nice": false}, "axis": null}},
  "layer": [
   {"mark": {"type": "rect", "stroke": "black", "strokeWidth": 1.2},
    "encoding": {"x2": {"datum": 1},
     "color": {"field": "metal", "type": "nominal", "legend": null,
       "scale": {"domain": ["Pb","Cd","As","Zn","Cu","Ni","Mn","Cr","V","Ti","Fe"], "range": ["#ffffff","#ffffff","#808080","#ffffff","#c0c0c0","#ffffff","#404040","#ffffff","#c0c0c0","#ffffff","#000000"]}}}},
   {"transform": [{"filter": "datum.metal === 'Ti'"}],
    "mark": {"type": "rect", "strokeWidth": 0,
      "fill": {"gradient": "linear", "x1": 0, "y1": 0, "x2": 1, "y2": 0, "stops": [
        {"offset":0.325,"color":"transparent"},{"offset":0.325,"color":"#000"},{"offset":0.355,"color":"#000"},{"offset":0.355,"color":"transparent"},
        {"offset":0.625,"color":"transparent"},{"offset":0.625,"color":"#000"},{"offset":0.655,"color":"#000"},{"offset":0.655,"color":"transparent"},
        {"offset":0.91,"color":"transparent"},{"offset":0.91,"color":"#000"},{"offset":0.94,"color":"#000"},{"offset":0.94,"color":"transparent"}]}},
    "encoding": {"x2": {"datum": 1}}},
   {"transform": [{"filter": "datum.metal === 'Cr'"}],
    "mark": {"type": "rect", "strokeWidth": 0,
      "fill": {"gradient": "linear", "x1": 0, "y1": 0, "x2": 0, "y2": 1, "stops": [
        {"offset":0.62,"color":"transparent"},{"offset":0.62,"color":"#000"},{"offset":0.7,"color":"#000"},{"offset":0.7,"color":"transparent"}]}},
    "encoding": {"x2": {"datum": 1}}},
   {"transform": [{"filter": "datum.metal === 'Cd' || datum.metal === 'Zn'"}],
    "mark": {"type": "rect", "strokeWidth": 0,
      "fill": {"gradient":"linear","x1":0,"y1":0,"x2":1.25153,"y2":0.59194,"stops":[{"offset":0.1088,"color":"transparent"},{"offset":0.1088,"color":"#000"},{"offset":0.1412,"color":"#000"},{"offset":0.1412,"color":"transparent"},{"offset":0.3588,"color":"transparent"},{"offset":0.3588,"color":"#000"},{"offset":0.3912,"color":"#000"},{"offset":0.3912,"color":"transparent"},{"offset":0.6088,"color":"transparent"},{"offset":0.6088,"color":"#000"},{"offset":0.6412,"color":"#000"},{"offset":0.6412,"color":"transparent"},{"offset":0.8588,"color":"transparent"},{"offset":0.8588,"color":"#000"},{"offset":0.8912,"color":"#000"},{"offset":0.8912,"color":"transparent"}]}},
    "encoding": {"x2": {"datum": 1}}},
   {"transform": [{"filter": "datum.metal === 'Ni' || datum.metal === 'Zn'"}],
    "mark": {"type": "rect", "strokeWidth": 0,
      "fill": {"gradient":"linear","x1":0,"y1":1,"x2":1.25153,"y2":0.40806,"stops":[{"offset":0.1088,"color":"transparent"},{"offset":0.1088,"color":"#000"},{"offset":0.1412,"color":"#000"},{"offset":0.1412,"color":"transparent"},{"offset":0.3588,"color":"transparent"},{"offset":0.3588,"color":"#000"},{"offset":0.3912,"color":"#000"},{"offset":0.3912,"color":"transparent"},{"offset":0.6088,"color":"transparent"},{"offset":0.6088,"color":"#000"},{"offset":0.6412,"color":"#000"},{"offset":0.6412,"color":"transparent"},{"offset":0.8588,"color":"transparent"},{"offset":0.8588,"color":"#000"},{"offset":0.8912,"color":"#000"},{"offset":0.8912,"color":"transparent"}]}},
    "encoding": {"x2": {"datum": 1}}},
   {"mark": {"type": "text", "align": "left", "baseline": "middle", "dx": 14, "fontSize": 20.5},
    "encoding": {"x": {"datum": 1, "type": "quantitative", "scale": {"domain": [0, 1], "nice": false}, "axis": null}, "text": {"field": "metal"}}}
  ]
 }
]
}
